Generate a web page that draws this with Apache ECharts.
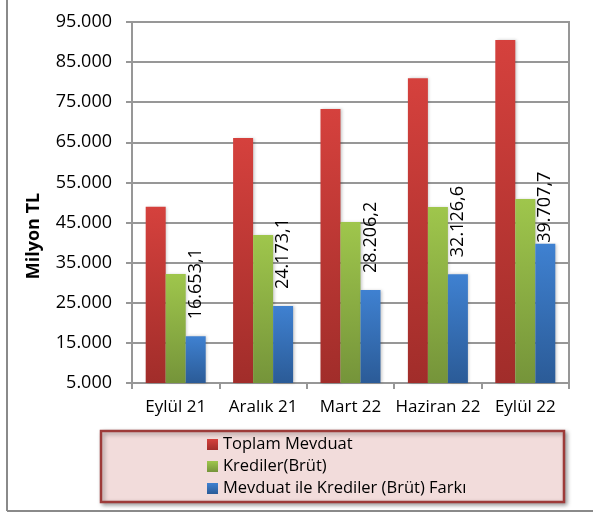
<!DOCTYPE html>
<html>
<head>
<meta charset="utf-8">
<script src="https://cdn.jsdelivr.net/npm/echarts@6/dist/echarts.min.js"></script>
<style>
  html, body { margin: 0; padding: 0; background: #fff; }
  #chart { width: 593px; height: 515px; }
</style>
</head>
<body>
<div id="chart"></div>
<script>
// Quarterly deposits vs. gross loans (million TL)
const categories = ['Eylül 21', 'Aralık 21', 'Mart 22', 'Haziran 22', 'Eylül 22'];
const seriesNames = ['Toplam Mevduat', 'Krediler(Brüt)', 'Mevduat ile Krediler (Brüt) Farkı'];
const toplamMevduat = [48950, 66100, 73300, 81000, 90500];
const krediler = [32200, 41900, 45150, 48900, 50900];
const fark = [16653.1, 24173.1, 28206.2, 32126.6, 39707.7];
const yTicks = [5000, 15000, 25000, 35000, 45000, 55000, 65000, 75000, 85000, 95000];

const FONT = '"Open Sans", sans-serif';
const GRID_COLOR = '#979797';

// Turkish number style: dot for thousands, comma for decimals
function trNumber(v, decimals) {
  const fixed = Number(v).toFixed(decimals);
  const parts = fixed.split('.');
  const intPart = parts[0].replace(/\B(?=(\d{3})+(?!\d))/g, '.');
  return parts.length > 1 ? intPart + ',' + parts[1] : intPart;
}

function grad(top, bottom) {
  return new echarts.graphic.LinearGradient(0, 0, 0, 1, [
    { offset: 0, color: top },
    { offset: 1, color: bottom }
  ]);
}

const barShadow = {
  shadowBlur: 3,
  shadowColor: 'rgba(0,0,0,0.22)',
  shadowOffsetX: 1.5,
  shadowOffsetY: 0
};

const chart = echarts.init(document.getElementById('chart'), null, { renderer: 'canvas' });

const option = {
  animation: false,
  backgroundColor: '#ffffff',
  textStyle: { fontFamily: FONT },
  grid: {
    left: 132, right: 24, top: 22, bottom: 132,
    show: true, borderColor: GRID_COLOR, borderWidth: 2
  },
  legend: {
    orient: 'vertical',
    left: 207, top: 436,
    padding: 0,
    itemWidth: 11, itemHeight: 11,
    itemGap: 5,
    itemTextGap: 4,
    icon: 'rect',
    textStyle: { fontFamily: FONT, fontSize: 16.5, color: '#000', lineHeight: 17 },
    data: seriesNames
  },
  xAxis: {
    type: 'category',
    data: categories,
    axisLine: { lineStyle: { color: GRID_COLOR, width: 2 } },
    axisTick: { show: true, length: 6, alignWithLabel: false, lineStyle: { color: GRID_COLOR, width: 2 } },
    axisLabel: { interval: 0, color: '#000', fontFamily: FONT, fontSize: 17, margin: 16 }
  },
  yAxis: {
    type: 'value',
    min: 5000, max: 95000, interval: 5000,
    axisLine: { show: true, lineStyle: { color: GRID_COLOR, width: 2 } },
    axisTick: { show: true, length: 6, lineStyle: { color: GRID_COLOR, width: 2 }, customValues: yTicks },
    splitLine: { show: true, lineStyle: { color: GRID_COLOR, width: 2 } },
    axisLabel: {
      customValues: yTicks,
      color: '#000', fontFamily: FONT, fontSize: 18, margin: 20,
      formatter: v => trNumber(v, 0)
    }
  },
  series: [
    {
      name: seriesNames[0], type: 'bar',
      data: toplamMevduat,
      barWidth: 20, barGap: '0%',
      itemStyle: Object.assign({ color: grad('#d5413d', '#a12d2a') }, barShadow)
    },
    {
      name: seriesNames[1], type: 'bar',
      data: krediler,
      barWidth: 20, barGap: '0%',
      itemStyle: Object.assign({ color: grad('#9fc64c', '#75943a') }, barShadow)
    },
    {
      name: seriesNames[2], type: 'bar',
      data: fark.map((v, i) => i === fark.length - 1 ? { value: v, label: { distance: 1 } } : v),
      barWidth: 20, barGap: '0%',
      itemStyle: Object.assign({ color: grad('#3f81d1', '#2b5b97') }, barShadow),
      label: {
        show: true,
        position: 'top',
        rotate: 90,
        align: 'left',
        verticalAlign: 'middle',
        distance: 17,
        color: '#000',
        fontFamily: FONT,
        fontSize: 18,
        formatter: p => trNumber(p.value, 1)
      }
    }
  ],
  graphic: [
    // outer chart frame (left and bottom edges)
    { type: 'line', z: 0, shape: { x1: 7, y1: 0, x2: 7, y2: 511 }, style: { stroke: '#8a8a8a', lineWidth: 2 } },
    { type: 'line', z: 0, shape: { x1: 7, y1: 511, x2: 593, y2: 511 }, style: { stroke: '#8a8a8a', lineWidth: 2 } },
    // legend panel
    {
      type: 'rect', z: 0,
      shape: { x: 101, y: 431, width: 463, height: 71 },
      style: {
        fill: '#f2dcdb', stroke: '#9d3b39', lineWidth: 2.5,
        shadowBlur: 4, shadowOffsetX: 2, shadowOffsetY: 2, shadowColor: 'rgba(0,0,0,0.35)'
      }
    },
    // y-axis title
    {
      type: 'text', z: 10,
      x: 34, y: 236, rotation: Math.PI / 2,
      style: {
        text: 'Milyon TL', fill: '#000',
        font: 'bold 18px "Open Sans", sans-serif',
        align: 'center', verticalAlign: 'middle'
      }
    }
  ]
};

chart.setOption(option);
</script>
</body>
</html>
